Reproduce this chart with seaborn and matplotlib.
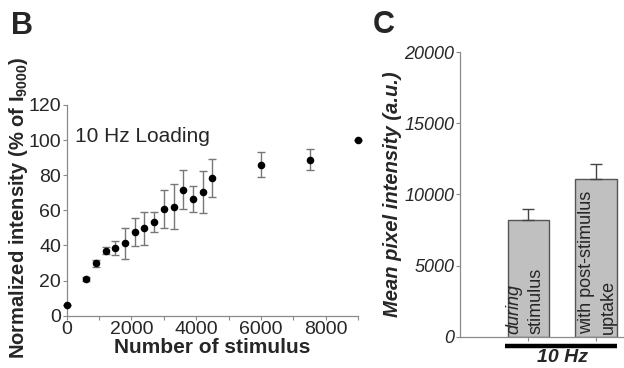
import numpy as np
import pandas as pd
import matplotlib
matplotlib.use("Agg")
import matplotlib.pyplot as plt
import matplotlib.transforms as mtransforms
import seaborn as sns

# ─── Data ───────────────────────────────────────────────────────────────────
stimulus = [0, 600, 900, 1200, 1500, 1800, 2100, 2400, 2700, 3000,
            3300, 3600, 3900, 4200, 4500, 6000, 7500, 9000]
intensity = [6, 21, 30, 37, 38.5, 41.2, 47.7, 49.7, 53.2, 60.8,
             62.1, 71.8, 66.5, 70.6, 78.4, 86, 88.9, 100]
intensity_err = [0, 1, 2, 2, 4, 8.7, 8, 9.5, 5.8, 11,
                 12.8, 11, 7.3, 12, 10.6, 7, 6, 0]

bar_labels = ["during\nstimulus", "with post-stimulus\nuptake"]
bar_values = [8200, 11100]
bar_err = [780, 1050]

# ─── Style ──────────────────────────────────────────────────────────────────
sns.set_style("ticks")
plt.rcParams['font.family'] = ['Liberation Sans', 'DejaVu Sans']
plt.rcParams['mathtext.fontset'] = 'custom'
plt.rcParams['mathtext.rm'] = 'Liberation Sans'
plt.rcParams['mathtext.bf'] = 'Liberation Sans:bold'
spine_grey = '#8a8a8a'

fig = plt.figure(figsize=(6.24, 3.68), dpi=100)

# ── Panel B ────────────────────────────────────────────────────────────────
ax1 = fig.add_axes([0.1069, 0.1421, 0.467, 0.5726])
df = pd.DataFrame({'stim': stimulus, 'val': intensity, 'err': intensity_err})
ax1.errorbar(df['stim'], df['val'], yerr=df['err'], fmt='none',
             ecolor='#777777', elinewidth=1.0, capsize=3, capthick=1.0,
             clip_on=False, zorder=2)
sns.scatterplot(data=df, x='stim', y='val', ax=ax1, color='black', s=30,
                edgecolor='black', linewidth=0, clip_on=False, zorder=3)
ax1.set_xlim(0, 9000)
ax1.set_ylim(0, 120)
ax1.set_xticks([0, 2000, 4000, 6000, 8000])
ax1.set_xticks(np.arange(1000, 9001, 2000), minor=True)
ax1.set_yticks(np.arange(0, 121, 20))
ax1.tick_params(labelsize=14, length=3, width=0.8, color=spine_grey, pad=1)
ax1.tick_params(which='minor', length=3, width=0.8, color=spine_grey)
ax1.set_xlabel('Number of stimulus', fontsize=15, fontweight='bold', labelpad=0)
ax1.set_ylabel(r'Normalized intensity (% of I$_{\mathbf{9000}}$)',
               fontsize=14.5, fontweight='bold')
ax1.yaxis.set_label_coords(-0.126, 0.511)
ax1.text(0.028, 0.824, '10 Hz Loading', transform=ax1.transAxes,
         fontsize=15, va='baseline')
sns.despine(ax=ax1)
for sp in ['left', 'bottom']:
    ax1.spines[sp].set_color(spine_grey)
    ax1.spines[sp].set_linewidth(0.9)

# ── Panel C ────────────────────────────────────────────────────────────────
ax2 = fig.add_axes([0.737, 0.085, 0.263, 0.773])
sns.barplot(x=bar_labels, y=bar_values, ax=ax2, color='#c0c0c0',
            edgecolor='#555555', linewidth=1.0, width=0.61, errorbar=None)
ax2.errorbar([0, 1], bar_values, yerr=[[0, 0], bar_err], fmt='none',
             ecolor='#444444', elinewidth=1.0, capsize=4, capthick=1.0)
ax2.set_xlim(-1.015, 1.415)
ax2.set_ylim(0, 20000)
ax2.set_yticks(np.arange(0, 20001, 5000))
ax2.set_xticklabels([])
ax2.tick_params(axis='y', labelsize=13, length=3, width=0.8,
                color=spine_grey, pad=1)
ax2.tick_params(axis='x', length=3, width=0.8, color=spine_grey)
for lbl in ax2.get_yticklabels():
    lbl.set_fontstyle('italic')
ax2.set_ylabel('Mean pixel intensity (a.u.)', fontsize=14.5,
               fontweight='bold', fontstyle='italic', labelpad=2)

# labels written up inside the bars, one rotated line at a time
line_step = 0.33
centre_shift = [-0.05, 0.02]
for i, lab in enumerate(bar_labels):
    lines = lab.split('\n')
    for j, line in enumerate(lines):
        x = i + centre_shift[i] + (j - (len(lines) - 1) / 2) * line_step
        style = 'italic' if (i == 0 and j == 0) else 'normal'
        ax2.text(x, 190, line, rotation=90, ha='center', va='bottom',
                 fontsize=13, fontstyle=style, zorder=4)
sns.despine(ax=ax2)
for sp in ['left', 'bottom']:
    ax2.spines[sp].set_color(spine_grey)
    ax2.spines[sp].set_linewidth(0.9)

# thick group bar and label below panel C
trans = mtransforms.blended_transform_factory(ax2.transData, ax2.transAxes)
ax2.plot([-0.35, 1.31], [-0.032, -0.032], color='black', lw=3.2,
         transform=trans, clip_on=False, solid_capstyle='butt')
ax2.text(0.51, -0.072, '10 Hz', transform=trans, ha='center', va='center',
         fontsize=14, fontweight='bold', fontstyle='italic')

# ── Panel letters ──────────────────────────────────────────────────────────
fig.text(0.018, 0.929, 'B', fontsize=22, fontweight='bold', va='center')
fig.text(0.598, 0.932, 'C', fontsize=22, fontweight='bold', va='center')

fig.savefig('out.png', dpi=100)
